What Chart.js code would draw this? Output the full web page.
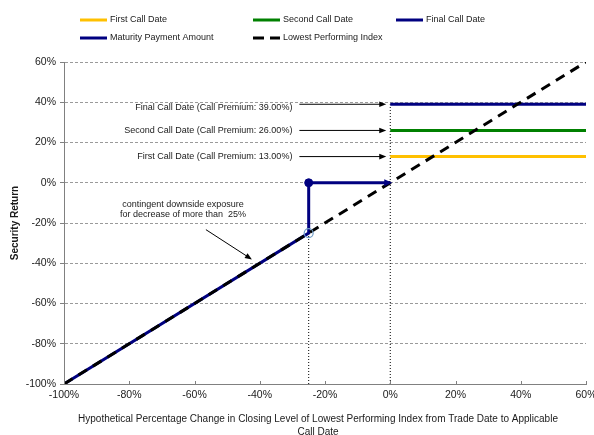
<!DOCTYPE html>
<html>
<head>
<meta charset="utf-8">
<style>
  html, body { margin: 0; padding: 0; background: #ffffff; }
  canvas { display: block; }
</style>
<script src="https://cdn.jsdelivr.net/npm/chart.js@4.4.1/dist/chart.umd.min.js"></script>
</head>
<body>
<canvas id="chart" width="594" height="435"></canvas>
<script>
// Percentage change of the lowest performing index (x) against security return (y)
const indexChange = [-100, 60];
const indexReturn = [-100, 60];

// Payment at maturity: 1:1 loss below the threshold, par otherwise
const maturityChange = [-100, -25, -25, 0];
const maturityReturn = [-100, -25, 0, 0];
const downsideThreshold = -25;

// Call dates and their premiums (flat for any index level at or above 0%)
const callDates = ['First Call Date', 'Second Call Date', 'Final Call Date'];
const callPremiums = [13, 26, 39];
const callRange = [0, 60];

// Axis tick values (both axes)
const axisTicks = [-100, -80, -60, -40, -20, 0, 20, 40, 60];

// ---- styling ----
const FONT = '"Liberation Sans", Arial, sans-serif';
const NAVY = '#000080';
const callColors = ['#FFC000', '#008000', NAVY];
const TEXT = '#1a1a1a';

const pts = (xs, ys) => xs.map((x, i) => ({ x: x, y: ys[i] }));
const pct = v => v + '%';

const datasets = [];

// dotted guides down from the threshold and from 0%
datasets.push({
  label: 'threshold guide',
  data: pts([downsideThreshold, downsideThreshold], [axisTicks[0], 0]),
  showLine: true, borderColor: '#000', borderWidth: 1, borderDash: [1, 2],
  pointRadius: 0, order: 20
});
datasets.push({
  label: 'call guide',
  data: pts([callRange[0], callRange[0]], [axisTicks[0], Math.max(...callPremiums)]),
  showLine: true, borderColor: '#000', borderWidth: 1, borderDash: [1, 2],
  pointRadius: 0, order: 20
});

callDates.forEach((name, i) => {
  datasets.push({
    label: name,
    data: pts(callRange, [callPremiums[i], callPremiums[i]]),
    showLine: true, borderColor: callColors[i], borderWidth: 3,
    pointRadius: 0, order: 10
  });
});

datasets.push({
  label: 'Maturity Payment Amount',
  data: pts(maturityChange, maturityReturn),
  showLine: true, borderColor: NAVY, borderWidth: 3,
  pointRadius: 0, order: 5
});

datasets.push({
  label: 'Lowest Performing Index',
  data: pts(indexChange, indexReturn),
  showLine: true, borderColor: '#000', borderWidth: 3, borderDash: [10, 7],
  pointRadius: 0, order: 2
});

// par point and the threshold point on the payment line
datasets.push({
  label: 'par',
  data: pts([downsideThreshold], [0]),
  showLine: false, pointRadius: 4, pointBackgroundColor: NAVY,
  pointBorderColor: NAVY, pointBorderWidth: 1, order: 0
});
datasets.push({
  label: 'threshold',
  data: pts([downsideThreshold], [downsideThreshold]),
  showLine: false, pointRadius: 4.5, pointBackgroundColor: 'rgba(0,0,0,0)',
  pointBorderColor: '#6f9cc6', pointBorderWidth: 1.2, order: 0
});

function arrow(ctx, x1, y1, x2, y2, color, width, headLen, headHalf) {
  const a = Math.atan2(y2 - y1, x2 - x1);
  const c = Math.cos(a), s = Math.sin(a);
  ctx.save();
  ctx.strokeStyle = color;
  ctx.fillStyle = color;
  ctx.lineWidth = width;
  ctx.setLineDash([]);
  ctx.beginPath();
  ctx.moveTo(x1, y1);
  ctx.lineTo(x2 - c * headLen * 0.7, y2 - s * headLen * 0.7);
  ctx.stroke();
  ctx.beginPath();
  ctx.moveTo(x2, y2);
  ctx.lineTo(x2 - c * headLen - s * headHalf, y2 - s * headLen + c * headHalf);
  ctx.lineTo(x2 - c * headLen + s * headHalf, y2 - s * headLen - c * headHalf);
  ctx.closePath();
  ctx.fill();
  ctx.restore();
}

const notes = {
  id: 'notes',
  afterDatasetsDraw(chart) {
    const { ctx } = chart;
    const x = chart.scales.x, y = chart.scales.y;
    const area = chart.chartArea;

    // inward tick marks on the x axis
    ctx.save();
    ctx.strokeStyle = '#808080';
    ctx.lineWidth = 1;
    axisTicks.forEach(v => {
      const px = Math.round(x.getPixelForValue(v)) + 0.5;
      ctx.beginPath();
      ctx.moveTo(px, area.bottom);
      ctx.lineTo(px, area.bottom - 3);
      ctx.stroke();
    });
    ctx.restore();

    // arrowhead where the payment line meets 0%
    const ex = x.getPixelForValue(callRange[0]);
    const ey = y.getPixelForValue(0);
    ctx.save();
    ctx.fillStyle = NAVY;
    ctx.beginPath();
    ctx.moveTo(ex + 2, ey);
    ctx.lineTo(ex - 6, ey - 3.5);
    ctx.lineTo(ex - 6, ey + 3.5);
    ctx.closePath();
    ctx.fill();
    ctx.restore();

    // call premium labels with arrows
    ctx.save();
    ctx.font = '9px ' + FONT;
    ctx.fillStyle = TEXT;
    ctx.textAlign = 'right';
    ctx.textBaseline = 'middle';
    const labelRight = x.getPixelForValue(-30);
    callDates.forEach((name, i) => {
      const py = y.getPixelForValue(callPremiums[i]);
      const ty = i === callDates.length - 1 ? py + 3 : py;
      ctx.fillText(name + ' (Call Premium: ' + callPremiums[i].toFixed(2) + '%)', labelRight, ty);
      arrow(ctx, labelRight + 7, py, x.getPixelForValue(callRange[0]) - 4, py, '#000', 1, 7, 2.8);
    });
    ctx.restore();

    // downside exposure note
    ctx.save();
    ctx.font = '9px ' + FONT;
    ctx.fillStyle = TEXT;
    ctx.textAlign = 'center';
    ctx.textBaseline = 'middle';
    const nx = x.getPixelForValue(-63.5), ny = y.getPixelForValue(-13.5);
    ctx.fillText('contingent downside exposure', nx, ny - 5);
    ctx.fillText('for decrease of more than  25%', nx, ny + 5);
    arrow(ctx, x.getPixelForValue(-56.5), y.getPixelForValue(-23.3),
               x.getPixelForValue(-42.4), y.getPixelForValue(-38.1), '#000', 1, 7, 2.8);
    ctx.restore();
  },
  afterDraw(chart) {
    const { ctx } = chart;
    const area = chart.chartArea;

    // legend
    const legend = [
      { name: 'First Call Date', color: callColors[0], x: 80, y: 20 },
      { name: 'Second Call Date', color: callColors[1], x: 253, y: 20 },
      { name: 'Final Call Date', color: callColors[2], x: 396, y: 20 },
      { name: 'Maturity Payment Amount', color: NAVY, x: 80, y: 38 },
      { name: 'Lowest Performing Index', color: '#000', x: 253, y: 38, dash: true }
    ];
    ctx.save();
    ctx.font = '9px ' + FONT;
    ctx.textAlign = 'left';
    ctx.textBaseline = 'middle';
    legend.forEach(item => {
      ctx.strokeStyle = item.color;
      ctx.lineWidth = 3;
      ctx.setLineDash(item.dash ? [11, 6] : []);
      ctx.beginPath();
      ctx.moveTo(item.x, item.y);
      ctx.lineTo(item.x + 27, item.y);
      ctx.stroke();
      ctx.fillStyle = TEXT;
      ctx.fillText(item.name, item.x + 30, item.y);
    });
    ctx.restore();

    // axis titles
    ctx.save();
    ctx.fillStyle = TEXT;
    ctx.textAlign = 'center';
    ctx.textBaseline = 'middle';
    ctx.font = 'bold 10px ' + FONT;
    ctx.translate(15, (area.top + area.bottom) / 2);
    ctx.rotate(-Math.PI / 2);
    ctx.fillText('Security Return', 0, 0);
    ctx.restore();

    ctx.save();
    ctx.fillStyle = TEXT;
    ctx.textAlign = 'center';
    ctx.textBaseline = 'middle';
    ctx.font = '10px ' + FONT;
    ctx.fillText('Hypothetical Percentage Change in Closing Level of Lowest Performing Index from Trade Date to Applicable', 318, 419);
    ctx.fillText('Call Date', 318, 432);
    ctx.restore();
  }
};

new Chart(document.getElementById('chart'), {
  type: 'scatter',
  data: { datasets: datasets },
  options: {
    responsive: false,
    animation: false,
    devicePixelRatio: 1,
    layout: { padding: { top: 62, right: 8, bottom: 0, left: 0 } },
    plugins: { legend: { display: false }, tooltip: { enabled: false } },
    elements: { line: { tension: 0 } },
    scales: {
      x: {
        type: 'linear', min: axisTicks[0], max: axisTicks[axisTicks.length - 1],
        afterBuildTicks: s => { s.ticks = axisTicks.map(v => ({ value: v })); },
        afterFit: s => { s.height = 51; s.paddingLeft = 0; s.paddingRight = 0; },
        ticks: { callback: pct, font: { family: FONT, size: 10.5 }, color: TEXT, padding: 5, maxRotation: 0 },
        grid: { drawOnChartArea: false, drawTicks: false },
        border: { color: '#808080', width: 1 }
      },
      y: {
        type: 'linear', min: axisTicks[0], max: axisTicks[axisTicks.length - 1],
        afterBuildTicks: s => { s.ticks = axisTicks.map(v => ({ value: v })); },
        afterFit: s => { s.width = 64; s.paddingTop = 0; s.paddingBottom = 0; },
        ticks: { callback: pct, font: { family: FONT, size: 10.5 }, color: TEXT, padding: 4 },
        grid: { color: '#9a9a9a', lineWidth: 1, tickLength: 4, tickColor: '#808080' },
        border: { color: '#808080', width: 1, dash: [3, 2] }
      }
    }
  },
  plugins: [notes]
});
</script>
</body>
</html>
